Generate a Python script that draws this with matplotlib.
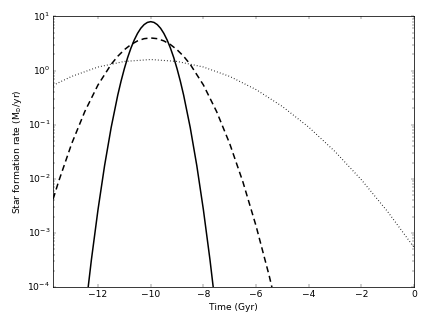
import matplotlib

matplotlib.use('agg')
import matplotlib.pyplot as plt

plt.style.use('classic')
plt.rcParams['figure.facecolor'] = 'white'
plt.rcParams['savefig.facecolor'] = 'white'
plt.rcParams['mathtext.fontset'] = 'dejavusans'

# Data (time in Gyr, SFR in Msun/yr)
# narrow burst (solid)
t_narrow = [-12.5, -12.25, -12.0, -11.75, -11.5, -11.25, -11.125, -11.0, -10.875, -10.75, -10.625,
            -10.5, -10.375, -10.25, -10.125, -10.0,
            -9.875, -9.75, -9.625, -9.5, -9.375, -9.25, -9.125, -9.0, -8.875, -8.75,
            -8.5, -8.25, -8.0, -7.75, -7.5]
sfr_narrow = [2.97e-5, 3.20e-4, 2.68e-3, 1.75e-2, 8.87e-2, 0.351, 0.635, 1.08, 1.73, 2.59, 3.65,
              4.84, 6.03, 7.04, 7.73, 7.98,
              7.73, 7.04, 6.03, 4.84, 3.65, 2.59, 1.73, 1.08, 0.635, 0.351,
              8.87e-2, 1.75e-2, 2.68e-3, 3.20e-4, 2.97e-5]

# medium burst (dashed)
t_medium = [-13.7, -13.5, -13.0, -12.5, -12.0, -11.5, -11.25, -11.0, -10.75, -10.5, -10.25, -10.0,
            -9.75, -9.5, -9.25, -9.0, -8.75, -8.5, -8.0, -7.5, -7.0, -6.5, -6.0, -5.5, -5.0]
sfr_medium = [4.26e-3, 8.75e-3, 4.44e-2, 0.175, 0.541, 1.30, 1.83, 2.42, 3.01, 3.52, 3.87, 3.99,
              3.87, 3.52, 3.01, 2.42, 1.83, 1.30, 0.541, 0.175, 4.44e-2, 8.75e-3, 1.34e-3, 1.60e-4, 1.48e-5]

# broad burst (dotted)
t_broad = [-13.7, -13.0, -12.0, -11.0, -10.0, -9.0, -8.0, -7.0, -6.0, -5.0, -4.0, -3.0, -2.0, -1.0, 0.0]
sfr_broad = [0.534, 0.777, 1.16, 1.47, 1.596, 1.47, 1.16, 0.777, 0.444, 0.216,
             8.96e-2, 3.17e-2, 9.54e-3, 2.45e-3, 5.36e-4]


def plot():
    fig = plt.figure(figsize=(8, 6), dpi=54.5)
    fig.subplots_adjust(left=0.122, right=0.95, top=0.95, bottom=0.122)
    ax = fig.add_subplot(111)

    ax.semilogy(t_narrow, sfr_narrow, 'k-', linewidth=2)
    ax.semilogy(t_medium, sfr_medium, 'k-', linewidth=2, dashes=(8, 5))
    ax.semilogy(t_broad, sfr_broad, 'k:', linewidth=1.5)

    ax.set_xlim(-13.7, 0)
    ax.set_ylim(1e-4, 10)
    ax.set_xlabel('Time (Gyr)')
    ax.set_ylabel(r'Star formation rate (M$_{\odot}$/yr)')

    fig.savefig('out.png', dpi=54.5)


if __name__ == "__main__":
    plot()
